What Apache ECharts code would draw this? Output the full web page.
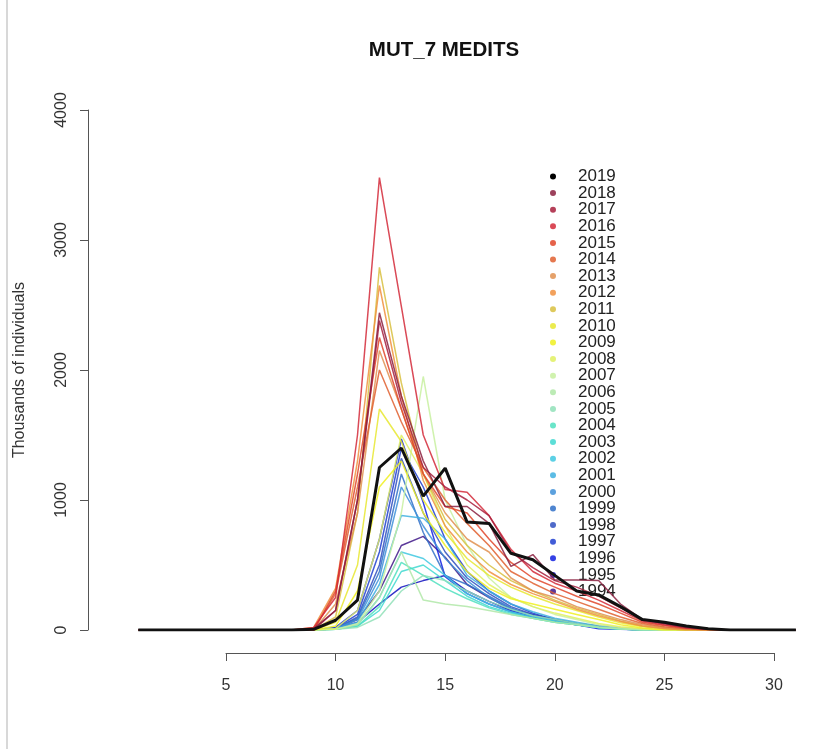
<!DOCTYPE html>
<html>
<head>
<meta charset="utf-8">
<script src="https://cdn.jsdelivr.net/npm/echarts@6/dist/echarts.min.js"></script>
<style>html,body{margin:0;padding:0;background:#fff}#chart{width:829px;height:749px}</style>
</head>
<body>
<div id="chart"></div>
<script>
const titleText = "MUT_7 MEDITS";
const yAxisTitle = "Thousands of individuals";
const xValues = [1,2,3,4,5,6,7,8,9,10,11,12,13,14,15,16,17,18,19,20,21,22,23,24,25,26,27,28,29,30,31];
const xTicks = [5,10,15,20,25,30];
const yTicks = [0,1000,2000,3000,4000];
const years = ["1994","1995","1996","1997","1998","1999","2000","2001","2002","2003","2004","2005","2006","2007","2008","2009","2010","2011","2012","2013","2014","2015","2016","2017","2018","2019"];
const colors = ["#401888","#1010c0","#1020e0","#2040d0","#3050c0","#3070c8","#4090d8","#40b0e0","#40c8e0","#40d8d0","#50e0c0","#90e0b8","#b0e8a8","#c8f0a0","#e0f060","#f0f020","#e8e830","#d8c040","#f09040","#e09050","#e06030","#e0462a","#d42a3a","#a81e3c","#8b2040","#000000"];

const v1994 = [0,0,0,0,0,0,0,0,0,10,80,300,650,720,560,350,250,160,120,80,50,30,15,5,0,0,0,0,0,0,0];
const v1995 = [0,0,0,0,0,0,0,0,0,10,60,200,330,380,420,300,220,150,100,70,40,20,10,5,0,0,0,0,0,0,0];
const v1996 = [0,0,0,0,0,0,0,0,0,20,150,700,1470,980,410,280,200,140,100,70,40,10,5,0,0,0,0,0,0,0,0];
const v1997 = [0,0,0,0,0,0,0,0,0,15,120,600,1400,1100,700,450,300,200,130,80,50,25,10,0,0,0,0,0,0,0,0];
const v1998 = [0,0,0,0,0,0,0,0,0,10,100,500,1320,900,600,400,280,180,120,80,50,25,10,0,0,0,0,0,0,0,0];
const v1999 = [0,0,0,0,0,0,0,0,0,10,90,450,1200,750,420,350,260,170,110,70,40,20,8,0,0,0,0,0,0,0,0];
const v2000 = [0,0,0,0,0,0,0,0,0,10,80,400,1100,800,550,380,250,160,110,70,45,20,10,0,0,0,0,0,0,0,0];
const v2001 = [0,0,0,0,0,0,0,0,0,8,60,350,880,860,700,420,300,200,140,90,60,30,12,0,0,0,0,0,0,0,0];
const v2002 = [0,0,0,0,0,0,0,0,0,5,40,250,600,550,420,280,200,140,100,70,40,20,8,0,0,0,0,0,0,0,0];
const v2003 = [0,0,0,0,0,0,0,0,0,5,30,150,450,500,380,260,180,130,90,60,40,20,8,0,0,0,0,0,0,0,0];
const v2004 = [0,0,0,0,0,0,0,0,0,5,30,180,520,420,320,240,170,120,90,60,40,20,8,0,0,0,0,0,0,0,0];
const v2005 = [0,0,0,0,0,0,0,0,0,5,20,100,300,420,380,300,220,160,110,80,50,25,10,0,0,0,0,0,0,0,0];
const v2006 = [0,0,0,0,0,0,0,0,0,5,40,250,600,230,200,180,150,120,90,60,40,20,8,0,0,0,0,0,0,0,0];
const v2007 = [0,0,0,0,0,0,0,0,0,5,50,300,900,1950,1000,650,400,250,180,120,80,40,20,8,0,0,0,0,0,0,0];
const v2008 = [0,0,0,0,0,0,0,0,0,10,150,700,1500,1200,800,500,350,250,180,130,90,50,25,10,0,0,0,0,0,0,0];
const v2009 = [0,0,0,0,0,0,0,0,0,30,300,1100,1300,900,650,450,320,240,200,160,120,80,40,15,0,0,0,0,0,0,0];
const v2010 = [0,0,0,0,0,0,0,0,0,60,500,1700,1450,1000,750,550,420,330,260,200,150,100,55,25,10,0,0,0,0,0,0];
const v2011 = [0,0,0,0,0,0,0,0,0,100,900,2790,1900,1200,850,650,500,380,300,230,170,120,70,30,12,0,0,0,0,0,0];
const v2012 = [0,0,0,0,0,0,0,0,20,320,1300,2650,1800,1150,800,600,450,350,280,220,160,110,65,30,12,0,0,0,0,0,0];
const v2013 = [0,0,0,0,0,0,0,0,0,200,900,2150,1700,1200,900,700,600,400,300,250,180,130,80,40,20,8,0,0,0,0,0];
const v2014 = [0,0,0,0,0,0,0,0,0,280,1100,2000,1600,1250,1000,820,650,450,360,280,220,160,100,50,25,10,0,0,0,0,0];
const v2015 = [0,0,0,0,0,0,0,0,0,300,1200,2250,1700,1200,950,900,700,520,400,330,260,200,130,60,35,15,5,0,0,0,0];
const v2016 = [0,0,0,0,0,0,0,0,20,250,1500,3480,2490,1500,1080,1060,880,620,450,360,300,230,150,70,40,15,5,0,0,0,0];
const v2017 = [0,0,0,0,0,0,0,0,0,150,1000,2380,1750,1250,1100,1000,880,600,480,380,330,260,170,80,50,25,8,0,0,0,0];
const v2018 = [0,0,0,0,0,0,0,0,10,150,1000,2440,1800,1300,950,950,820,490,580,385,385,380,200,80,50,20,5,0,0,0,0];
const v2019 = [0,0,0,0,0,0,0,0,5,75,230,1250,1400,1030,1245,830,820,590,540,420,300,270,180,80,60,30,10,0,0,0,0];

const seriesValues = [v1994,v1995,v1996,v1997,v1998,v1999,v2000,v2001,v2002,v2003,v2004,v2005,v2006,v2007,v2008,v2009,v2010,v2011,v2012,v2013,v2014,v2015,v2016,v2017,v2018,v2019];

function hexToRgba(h, a) {
  const r = parseInt(h.slice(1,3),16), g = parseInt(h.slice(3,5),16), b = parseInt(h.slice(5,7),16);
  return 'rgba(' + r + ',' + g + ',' + b + ',' + a + ')';
}

const series = years.map(function (yr, i) {
  const isLast = yr === "2019";
  return {
    name: yr,
    type: 'line',
    xAxisIndex: 0,
    yAxisIndex: 0,
    symbol: 'none',
    silent: true,
    z: 2 + i,
    color: isLast ? '#000000' : hexToRgba(colors[i], 0.85),
    lineStyle: { width: isLast ? 3 : 1.5, color: isLast ? '#111' : hexToRgba(colors[i], 0.85) },
    data: xValues.map(function (x, k) { return [x, seriesValues[i][k]]; })
  };
});

const font = 'Liberation Sans, Arial, Helvetica, sans-serif';
const chart = echarts.init(document.getElementById('chart'), null, { renderer: 'canvas' });
chart.setOption({
  backgroundColor: '#ffffff',
  animation: false,
  title: {
    text: titleText,
    left: 439, top: 35, textAlign: 'center',
    textStyle: { fontFamily: font, fontWeight: 'bold', fontSize: 20.5, color: '#111' }
  },
  legend: {
    orient: 'vertical',
    left: 550, top: 168,
    padding: 0,
    itemGap: -0.4,
    itemWidth: 40, itemHeight: 6,
    icon: 'circle',
    selectedMode: false,
    data: years.slice().reverse(),
    textStyle: { fontFamily: font, fontSize: 17, color: '#222', padding: [0, 0, 0, 0] }
  },
  grid: [
    { left: 116.4, width: 701.4, top: 110, height: 520 },
    { left: 226, width: 548, top: 600, height: 53 },
    { left: 88, width: 10, top: 110, height: 520 }
  ],
  xAxis: [
    { type: 'value', gridIndex: 0, min: 0, max: 32, show: false },
    { type: 'value', gridIndex: 1, min: 5, max: 30, interval: 5, position: 'bottom',
      axisLine: { show: true, lineStyle: { color: '#555', width: 1 } },
      axisTick: { show: true, length: 8, lineStyle: { color: '#555' } },
      splitLine: { show: false },
      axisLabel: { fontFamily: font, fontSize: 16, color: '#333', margin: 25,
        customValues: xTicks, formatter: function (v) { return String(v); } } },
    { type: 'value', gridIndex: 2, min: 0, max: 1, show: false }
  ],
  yAxis: [
    { type: 'value', gridIndex: 0, min: 0, max: 4000, show: false },
    { type: 'value', gridIndex: 1, min: 0, max: 1, show: false },
    { type: 'value', gridIndex: 2, min: 0, max: 4000, interval: 1000, position: 'left',
      name: yAxisTitle, nameLocation: 'middle', nameGap: 60, nameRotate: 90,
      nameTextStyle: { fontFamily: font, fontSize: 16, color: '#333' },
      axisLine: { show: true, lineStyle: { color: '#555', width: 1 } },
      axisTick: { show: true, length: 8, lineStyle: { color: '#555' } },
      splitLine: { show: false },
      axisLabel: { fontFamily: font, fontSize: 16, color: '#333', margin: 18, rotate: 90,
        customValues: yTicks, formatter: function (v) { return String(v); } } }
  ],
  graphic: [
    { type: 'line', shape: { x1: 7, y1: 0, x2: 7, y2: 749 }, style: { stroke: '#d8d8d8', lineWidth: 2 }, silent: true }
  ],
  series: series
});
</script>
</body>
</html>
